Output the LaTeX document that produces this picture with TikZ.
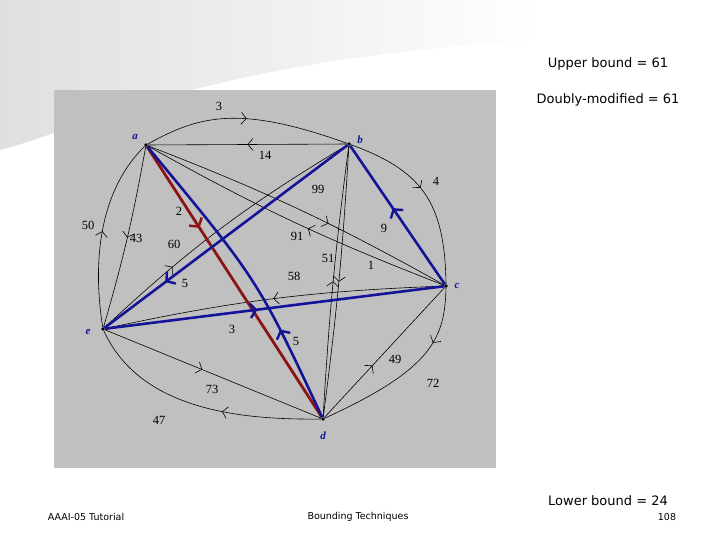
\documentclass[tikz,border=0pt]{standalone}
\usepackage{fontspec}
\setmainfont{Liberation Serif}
\newfontfamily\slidefont{DejaVu Sans}
\usetikzlibrary{arrows.meta,decorations.markings}
\definecolor{panel}{RGB}{192,192,192}
\definecolor{navy}{RGB}{20,20,150}
\definecolor{darkred}{RGB}{140,20,20}
\tikzset{
  x=1pt,y=-1pt,
  thin edge/.style={draw=black,line width=0.6pt},
  blue edge/.style={draw=navy,line width=2.6pt},
  red edge/.style={draw=darkred,line width=2.8pt},
  midarrow/.style={postaction={decorate},decoration={markings,mark=at position #1 with {\arrow{Straight Barb[length=5pt,width=12pt,line width=0.6pt]}}}},
  bigarrow/.style={postaction={decorate},decoration={markings,mark=at position #1 with {\arrow{Straight Barb[length=6pt,width=15pt,line width=2.4pt]}}}},
  vtx/.style={circle,fill=black,inner sep=1.3pt},
  vlab/.style={text=navy,font=\bfseries\itshape\fontsize{11}{12}\selectfont},
  wlab/.style={font=\fontsize{12.5}{14}\selectfont},
  slide/.style={font=\slidefont\fontsize{13}{15}\selectfont},
  foot/.style={font=\slidefont\fontsize{9.5}{11}\selectfont}
}
\begin{document}
\begin{tikzpicture}
\useasboundingbox (0,0) rectangle (720,540);
\fill[white] (0,0) rectangle (720,540);
\shade[left color=gray!25,right color=white] (0,0) -- (540,0) -- (540,40) .. controls (200,60) and (80,130) .. (0,150) -- cycle;
\fill[panel] (54,90) rectangle (496,468);
\node[vtx] (a) at (146,145) {};
\node[vtx] (b) at (349,144) {};
\node[vtx] (c) at (446,286) {};
\node[vtx] (e) at (103,329) {};
\node[vtx] (d) at (323,419) {};
\node[vlab] (la) at (135,137) {a};
\node[vlab] (lb) at (360,140) {b};
\node[vlab] (lc) at (457,286) {c};
\node[vlab] (le) at (88,332) {e};
\node[vlab] (ld) at (323,436) {d};
% thin edges
\draw[thin edge,midarrow=0.5] (a) .. controls (200,115) and (240,105) .. (b);
\draw[thin edge,midarrow=0.5] (b) -- (a);
\draw[thin edge,midarrow=0.45] (b) .. controls (420,170) and (445,200) .. (c);
\draw[thin edge,midarrow=0.6] (a) to[bend left=4] (c);
\draw[thin edge,midarrow=0.45] (c) to[bend left=4] (a);
\draw[thin edge,midarrow=0.5] (e) .. controls (92,260) and (100,190) .. (a);
\draw[thin edge,midarrow=0.5] (a) to[bend left=3] (e);
\draw[thin edge,midarrow=0.3] (e) to[bend left=6] (b);
\draw[thin edge,midarrow=0.5] (d) to[bend left=2] (b);
\draw[thin edge,midarrow=0.5] (b) to[bend left=2] (d);
\draw[thin edge,midarrow=0.5] (c) to[bend right=5] (e);
\draw[thin edge,midarrow=0.4] (d) -- (c);
\draw[thin edge,midarrow=0.3] (c) .. controls (445,340) and (430,370) .. (d);
\draw[thin edge,midarrow=0.45] (e) -- (d);
\draw[thin edge,midarrow=0.4] (d) .. controls (240,420) and (140,410) .. (e);
% thick edges
\draw[red edge,bigarrow=0.3] (a) -- (d);
\draw[blue edge,bigarrow=0.3] (d) .. controls (258,280) .. (a);
\draw[blue edge,bigarrow=0.75] (b) -- (e);
\draw[blue edge,bigarrow=0.45] (e) -- (c);
\draw[blue edge,bigarrow=0.55] (c) -- (b);
% weights
\node[wlab] (w1) at (219,106) {3};
\node[wlab] (w2) at (265,155) {14};
\node[wlab] (w3) at (436,181) {4};
\node[wlab] (w4) at (384,228) {9};
\node[wlab] (w5) at (318,189) {99};
\node[wlab] (w6) at (297,236) {91};
\node[wlab] (w7) at (179,211) {2};
\node[wlab] (w8) at (88,225) {50};
\node[wlab] (w9) at (136,238) {43};
\node[wlab] (w10) at (174,244) {60};
\node[wlab] (w11) at (185,283) {5};
\node[wlab] (w12) at (328,258) {51};
\node[wlab] (w13) at (371,265) {1};
\node[wlab] (w14) at (294,276) {58};
\node[wlab] (w15) at (232,329) {3};
\node[wlab] (w16) at (296,341) {5};
\node[wlab] (w17) at (395,359) {49};
\node[wlab] (w18) at (433,383) {72};
\node[wlab] (w19) at (212,389) {73};
\node[wlab] (w20) at (159,420) {47};
% slide text
\node[slide] (t1) at (608,64) {Upper bound = 61};
\node[slide] (t2) at (608,100) {Doubly-modified = 61};
\node[slide] (t3) at (608,501) {Lower bound = 24};
\node[foot] (f1) at (86,517) {AAAI-05 Tutorial};
\node[foot] (f2) at (358,517) {Bounding Techniques};
\node[foot] (f3) at (667,517) {108};
\end{tikzpicture}
\end{document}
